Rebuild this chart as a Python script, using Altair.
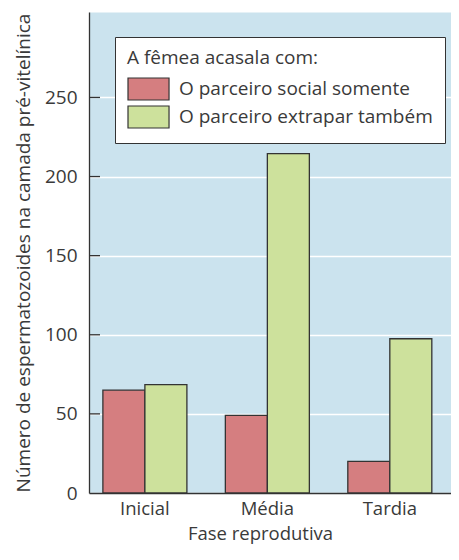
import altair as alt
import pandas as pd

fases = ["Inicial", "Média", "Tardia"]
grupos = ["O parceiro social somente", "O parceiro extrapar também"]
social = [65, 49, 20]
extrapar = [68.5, 214.5, 97.5]
y_ticks = [0, 50, 100, 150, 200, 250]
cores = ["#d57e80", "#cde19c"]

rows = []
for f, s, e in zip(fases, social, extrapar):
    rows.append({"fase": f, "grupo": grupos[0], "valor": s})
    rows.append({"fase": f, "grupo": grupos[1], "valor": e})
df = pd.DataFrame(rows)
ticks_df = pd.DataFrame({"v": y_ticks[1:]})

FONT = "Open Sans"
TXT = "#3a3a3a"
FS = 19

yscale = alt.Scale(domain=[0, 304], nice=False)

bars = alt.Chart(df).mark_bar(stroke="#333333", strokeWidth=1.3).encode(
    x=alt.X("fase:N", sort=fases,
            scale=alt.Scale(paddingInner=0.314, paddingOuter=0.135, align=0.42),
            axis=alt.Axis(title="Fase reprodutiva", labelAngle=0, ticks=False,
                          labelFontSize=18.5, titleFontSize=18.5,
                          labelPadding=6, titlePadding=7, titleX=171,
                          domainColor="#333333", domainWidth=1.3)),
    xOffset=alt.XOffset("grupo:N", sort=grupos, scale=alt.Scale(paddingInner=0, paddingOuter=0)),
    y=alt.Y("valor:Q", scale=yscale,
            axis=alt.Axis(title="Número de espermatozoides na camada pré-vitelínica",
                          values=y_ticks, ticks=False, labelPadding=12, titlePadding=11,
                          grid=True, gridColor="white", gridWidth=1.5,
                          domainColor="#333333", domainWidth=1.3)),
    color=alt.Color("grupo:N", sort=grupos,
                    scale=alt.Scale(domain=grupos, range=cores),
                    legend=alt.Legend(orient="none", legendX=26, legendY=25,
                                      title="A fêmea acasala com:",
                                      fillColor="white", strokeColor="#333333",
                                      padding=12, titleFontSize=FS, labelFontSize=FS,
                                      titleFontWeight="normal",
                                      titleColor=TXT, labelColor=TXT,
                                      symbolType="M-1,-1H2.73V1H-1Z", symbolSize=484,
                                      symbolStrokeColor="#333333", symbolStrokeWidth=1.2,
                                      symbolOpacity=1,
                                      labelOffset=28, rowPadding=0, titlePadding=9,
                                      labelLimit=400, titleLimit=400)),
)

ticks = alt.Chart(ticks_df).mark_rule(color="#333333", strokeWidth=1.3).encode(
    y=alt.Y("v:Q", scale=yscale),
    x=alt.value(0),
    x2=alt.value(11),
)

chart = alt.layer(bars, ticks).properties(
    width=362, height=481,
    autosize=alt.AutoSizeParams(type="none"),
    padding={"left": 81, "top": 4, "right": 0, "bottom": 54},
).configure_view(
    fill="#cbe3ee", stroke="transparent"
).configure_axis(
    labelFont=FONT, titleFont=FONT, labelFontSize=FS, titleFontSize=FS,
    labelColor=TXT, titleColor=TXT, titleFontWeight="normal"
).configure_legend(
    labelFont=FONT, titleFont=FONT
)

chart.save("out.html", embed_options={"renderer": "svg", "actions": False})
